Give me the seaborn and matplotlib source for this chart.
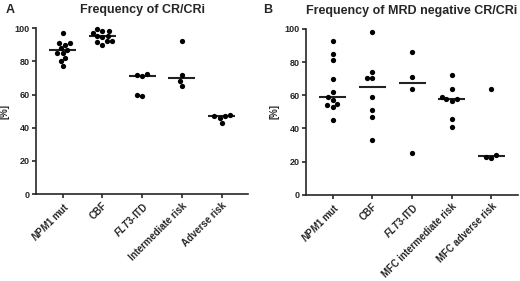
import pandas as pd
import matplotlib
matplotlib.use("Agg")
import matplotlib.pyplot as plt
import seaborn as sns

# Panel A - Frequency of CR/CRi
cats_a = [r"$\mathit{NPM1}$ mut", "CBF", r"$\mathit{FLT3}$-ITD", "Intermediate risk", "Adverse risk"]
npm1_a = [97, 91, 91, 90, 88, 87, 85, 85, 82, 80, 77]
cbf_a = [99.5, 98.5, 98, 97, 95.5, 95, 94.5, 92, 92, 91.5, 90]
flt3_a = [72.5, 72, 71, 60, 59]
inter_a = [92, 72, 68, 65]
adverse_a = [47.5, 47, 47, 46, 43]

# Panel B - Frequency of MRD negative CR/CRi
cats_b = [r"$\mathit{NPM1}$ mut", "CBF", r"$\mathit{FLT3}$-ITD", "MFC intermediate risk", "MFC adverse risk"]
npm1_b = [93, 85, 81, 70, 62, 59, 57, 55, 54, 53, 45]
cbf_b = [98, 74, 70.5, 70.5, 59, 51, 47, 33]
flt3_b = [86, 71, 64, 25]
inter_b = [72, 64, 59, 58, 57.5, 56.5, 45.5, 41]
adverse_b = [64, 24, 23, 22]


def long_form(cats, series):
    rows = []
    for c, vals in zip(cats, series):
        for v in vals:
            rows.append({"group": c, "value": v})
    return pd.DataFrame(rows)


df_a = long_form(cats_a, [npm1_a, cbf_a, flt3_a, inter_a, adverse_a])
df_b = long_form(cats_b, [npm1_b, cbf_b, flt3_b, inter_b, adverse_b])

sns.set_style("ticks")
plt.rcParams["font.family"] = ["Liberation Sans", "DejaVu Sans"]
plt.rcParams["font.weight"] = "bold"
plt.rcParams["mathtext.fontset"] = "custom"
plt.rcParams["mathtext.it"] = "Liberation Sans:bold:italic"
plt.rcParams["mathtext.rm"] = "Liberation Sans:bold"

fig = plt.figure(figsize=(5.2, 2.81), dpi=100)
ax_a = fig.add_axes([0.0692, 0.309, 0.408, 0.591])
ax_b = fig.add_axes([0.5885, 0.307, 0.4077, 0.590])


def draw_panel(ax, df, cats, title):
    sns.swarmplot(data=df, x="group", y="value", order=cats, color="black",
                  size=3.8, ax=ax, clip_on=False)
    sns.boxplot(data=df, x="group", y="value", order=cats, ax=ax, width=0.68,
                showbox=False, showcaps=False, showfliers=False,
                whiskerprops={"visible": False},
                medianprops={"color": "#222222", "linewidth": 1.5})
    ax.set_ylim(0, 100)
    ax.set_xlim(-0.67, 4.67)
    ax.set_yticks([0, 20, 40, 60, 80, 100])
    ax.set_xlabel("")
    ax.set_ylabel("[%]", fontsize=7, fontweight="bold", labelpad=4)
    ax.set_title(title, fontsize=9, fontweight="bold", pad=11)
    for side in ["top", "right"]:
        ax.spines[side].set_visible(False)
    for side in ["left", "bottom"]:
        ax.spines[side].set_linewidth(1.2)
    ax.tick_params(axis="both", width=1.2, length=3, pad=1.5)
    ax.tick_params(axis="y", labelsize=6.5)
    ax.tick_params(axis="x", labelsize=6.9)
    ax.set_xticks(range(len(cats)))
    ax.set_xticklabels(cats, rotation=45, ha="right", rotation_mode="anchor",
                       fontweight="bold")
    for lbl in ax.get_yticklabels():
        lbl.set_fontweight("bold")


draw_panel(ax_a, df_a, cats_a, "Frequency of CR/CRi")
draw_panel(ax_b, df_b, cats_b, "Frequency of MRD negative CR/CRi")

fig.text(0.01, 0.965, "A", fontsize=9, fontweight="bold", va="center")
fig.text(0.506, 0.965, "B", fontsize=9, fontweight="bold", va="center")

fig.savefig("out.png", dpi=100)
